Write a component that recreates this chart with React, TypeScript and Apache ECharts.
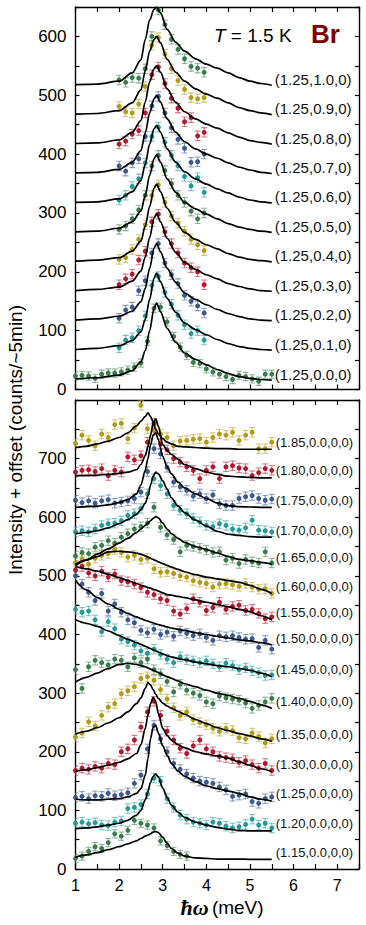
import React, { useEffect, useRef } from 'react';
import * as echarts from 'echarts';

const FONT = '"Liberation Sans", Arial, Helvetica, sans-serif';

// energies (meV)
const EP = [1.0, 1.15, 1.3, 1.45, 1.6, 1.75, 1.9, 2.05, 2.2, 2.35, 2.5, 2.65, 2.8, 2.95, 3.1, 3.25, 3.4, 3.55, 3.7, 3.85, 4.0, 4.15, 4.3, 4.45, 4.6, 4.75, 4.9, 5.05, 5.2, 5.35, 5.5];
const ET = [2.0, 2.15, 2.3, 2.45, 2.6, 2.75, 2.9, 3.05, 3.2, 3.35, 3.5, 3.65, 3.8, 3.95];
const EFT = [1.0, 1.5, 2.0, 2.3, 2.5, 2.6, 2.7, 2.8, 2.86, 2.95, 3.1, 3.3, 3.5, 3.75, 4.0, 4.25, 4.5, 4.75, 5.0, 5.25, 5.5];
const EFB = [1.0, 1.25, 1.5, 1.75, 2.0, 2.2, 2.4, 2.5, 2.6, 2.66, 2.72, 2.78, 2.84, 2.9, 3.0, 3.1, 3.2, 3.35, 3.5, 3.75, 4.0, 4.25, 4.5, 4.75, 5.0, 5.25, 5.5];

const PALETTE = ['#3a7d4c', '#22999b', '#3b5a92', '#b3182d', '#b39a17'];

// ---------- top panel: Q = (1.25, k, 0) ----------
const topLabels = ['(1.25,0.0,0)', '(1.25,0.1,0)', '(1.25,0.2,0)', '(1.25,0.3,0)', '(1.25,0.4,0)', '(1.25,0.5,0)', '(1.25,0.6,0)', '(1.25,0.7,0)', '(1.25,0.8,0)', '(1.25,0.9,0)', '(1.25,1.0,0)'];
const t00 = [23, 24, 23, 19, 26, 28, 28, 30, 33, 38, 45, 82, 138, 140, 115, 90, 72, 58, 46, 44, 35, 30, 26, 22, 17, 24, 22, 18, 14, 26, 26];
const t01 = [71, 84, 88, 100, 125, 177, 192, 165, 145, 126, 110, 95, 100, 84];
const t02 = [121, 135, 140, 168, 185, 232, 248, 215, 195, 180, 160, 150, 142, 130];
const t03 = [178, 188, 196, 220, 235, 285, 298, 268, 248, 232, 215, 207, 200, 178];
const t04 = [221, 224, 238, 255, 280, 330, 348, 318, 295, 283, 269, 255, 246, 236];
const t05 = [272, 278, 290, 305, 330, 380, 398, 372, 350, 330, 318, 303, 290, 300];
const t06 = [322, 330, 345, 358, 385, 430, 446, 420, 398, 380, 362, 346, 360, 335];
const t07 = [380, 371, 385, 392, 430, 482, 498, 470, 445, 425, 410, 386, 387, 400];
const t08 = [417, 422, 434, 440, 470, 535, 548, 520, 495, 478, 455, 462, 431, 437];
const t09 = [481, 472, 470, 485, 515, 585, 598, 570, 545, 525, 510, 496, 494, 496];
const t10 = [526, 522, 530, 529, 545, 600, 645, 620, 595, 578, 562, 549, 546, 539];
const topErr = [7, 8, 8, 8, 8, 8, 8, 8, 8, 8, 8];

const ft00 = [18, 20, 24.5, 32, 47, 66, 100, 138, 147, 132, 104, 80, 62, 51, 42, 34, 27, 22, 19, 17, 16];
const ft01 = [68, 70, 74.5, 83, 98, 119, 153, 189, 198, 183, 155, 131, 113, 102, 93, 85, 78, 73, 70, 68, 67];
const ft02 = [118, 120, 124.5, 133, 149, 172, 206, 240, 248, 234, 206, 182, 164, 153, 144, 136, 129, 124, 120, 118, 117];
const ft03 = [168, 170, 174, 184, 201, 225, 258, 291, 299, 285, 257, 233, 216, 204, 195, 188, 180, 175, 171, 168, 167];
const ft04 = [218, 220, 224, 235, 252, 278, 311, 342, 349, 336, 308, 284, 267, 255, 246, 239, 231, 225, 221, 219, 217];
const ft05 = [268, 269, 274, 285, 303, 330, 364, 392, 399, 386, 358, 335, 318, 307, 298, 290, 282, 276, 272, 269, 267];
const ft06 = [318, 319, 324, 336, 355, 383, 417, 443, 449, 437, 409, 386, 370, 358, 349, 341, 334, 327, 322, 319, 317];
const ft07 = [368, 369, 374, 386, 406, 436, 470, 494, 500, 488, 460, 437, 421, 409, 400, 393, 385, 378, 373, 369, 367];
const ft08 = [418, 419, 424, 437, 457, 489, 523, 545, 550, 539, 511, 488, 472, 460, 451, 444, 436, 429, 423, 420, 417];
const ft09 = [468, 469, 474, 487, 509, 542, 575, 595, 600, 589, 561, 539, 524, 511, 502, 495, 487, 479, 474, 470, 467];
const ft10 = [518, 519, 524, 538, 560, 595, 628, 646, 650, 640, 612, 590, 575, 562, 553, 546, 538, 530, 524, 520, 517];

// ---------- bottom panel: Q = (h, 0.0, 0, 0) ----------
const botLabels = ['(1.15,0.0,0,0)', '(1.20,0.0,0,0)', '(1.25,0.0,0,0)', '(1.30,0.0,0,0)', '(1.35,0.0,0,0)', '(1.40,0.0,0,0)', '(1.45,0.0,0,0)', '(1.50,0.0,0,0)', '(1.55,0.0,0,0)', '(1.60,0.0,0,0)', '(1.65,0.0,0,0)', '(1.70,0.0,0,0)', '(1.75,0.0,0,0)', '(1.80,0.0,0,0)', '(1.85,0.0,0,0)'];
const b115 = [18, 22, 30, 38, 35, 45, 60, 56, 66, 83, 78, 75, 70, 48, 40, 30, 25, 22];
const b120 = [78, 80, 77, 79, 75, 74, 80, 82, 103, 105, 110, 128, 155, 150, 120, 105, 92, 85, 80, 78, 75, 80, 78, 73, 70, 72, 76, 85, 75, 78, 70];
const b125 = [122, 124, 120, 125, 124, 129, 125, 127, 130, 146, 160, 205, 245, 222, 200, 180, 170, 162, 155, 150, 148, 146, 140, 135, 124, 126, 128, 115, 112, 120, 123];
const b130 = [168, 172, 170, 175, 172, 180, 178, 200, 205, 220, 242, 268, 286, 262, 235, 220, 206, 197, 210, 220, 205, 200, 192, 190, 188, 182, 185, 178, 172, 180, 168];
const b135 = [225, 232, 251, 244, 262, 276, 282, 299, 304, 311, 325, 328, 322, 306, 290, 275, 262, 268, 255, 250, 246, 240, 235, 240, 236, 224, 222, 232, 226, 215, 222];
const b140 = [340, 308, 345, 356, 352, 348, 358, 356, 345, 360, 352, 358, 340, 333, 320, 302, 315, 305, 300, 296, 285, 282, 295, 292, 290, 288, 283, 274, 279, 285, 291];
const b145 = [443, 438, 440, 425, 405, 422, 410, 392, 388, 382, 372, 368, 375, 366, 358, 352, 362, 357, 355, 352, 355, 350, 345, 351, 347, 340, 343, 338, 335, 330, 331];
const b150 = [500, 486, 472, 458, 470, 440, 452, 438, 425, 420, 407, 403, 409, 400, 404, 397, 406, 402, 398, 401, 395, 390, 398, 396, 398, 395, 392, 393, 378, 390, 375];
const b155 = [510, 516, 505, 500, 508, 498, 503, 492, 490, 486, 480, 472, 468, 461, 458, 440, 435, 444, 461, 455, 441, 446, 455, 443, 448, 450, 441, 443, 436, 427, 430];
const b160 = [522, 528, 520, 530, 535, 538, 545, 540, 532, 535, 528, 530, 512, 506, 507, 504, 500, 498, 492, 489, 487, 481, 486, 487, 485, 482, 487, 481, 477, 478, 470];
const b165 = [534, 540, 538, 549, 552, 560, 556, 566, 572, 580, 584, 590, 617, 583, 570, 562, 541, 552, 550, 547, 544, 540, 541, 527, 530, 521, 528, 524, 522, 541, 522];
const b170 = [575, 577, 575, 580, 586, 589, 590, 594, 603, 606, 615, 640, 666, 654, 640, 620, 612, 606, 598, 592, 586, 584, 589, 586, 580, 578, 582, 595, 578, 577, 575];
const b175 = [629, 625, 628, 624, 628, 630, 624, 626, 628, 632, 643, 678, 717, 708, 685, 660, 652, 646, 636, 640, 632, 638, 623, 620, 620, 632, 635, 637, 632, 629, 631];
const b180 = [677, 680, 681, 678, 683, 671, 680, 677, 703, 698, 705, 728, 760, 725, 715, 700, 694, 686, 680, 666, 680, 686, 666, 686, 688, 684, 683, 671, 676, 683, 680];
const b185 = [726, 740, 731, 722, 742, 736, 758, 760, 734, 752, 791, 751, 748, 742, 736, 722, 730, 731, 733, 734, 728, 736, 742, 740, 745, 731, 740, 745, 717, 717, 728];
const botErr = [7, 8, 8, 8, 8, 8, 8, 8, 8, 8, 8, 8, 8, 8, 8];

const fb115 = [20, 24, 28, 33, 38, 43, 48, 52, 56, 58, 60, 63, 64, 62, 54, 44, 35, 27, 22, 19, 18, 17, 17, 17, 16.5, 16.5, 16.5];
const fb120 = [69, 70, 72, 75, 78, 83, 92, 100, 118, 132, 148, 158, 162, 157, 138, 122, 109, 97, 88, 80, 75, 71, 68, 66, 65, 65, 65];
const fb125 = [119, 118, 118, 119, 120, 123, 129, 137, 160, 188, 222, 242, 245, 232, 210, 194, 180, 167, 158, 149, 142, 137, 133, 129, 123, 119, 116];
const fb130 = [167, 169, 173, 177, 182, 188, 197, 212, 240, 262, 282, 293, 285, 265, 240, 228, 220, 212, 207, 200, 196, 193, 189, 183, 177, 171, 166];
const fb135 = [230, 235, 241, 249, 258, 268, 282, 292, 308, 318, 314, 306, 298, 291, 283, 278, 274, 269, 264, 255, 248, 241, 236, 231, 227, 222, 218];
const fb140 = [319, 327, 334, 342, 349, 351, 349, 347, 345, 343, 341, 339, 337, 335, 331, 328, 325, 321, 316, 311, 305, 300, 296, 291, 286, 280, 274];
const fb145 = [425, 419, 414, 406, 398, 392, 386, 383, 380, 378, 376, 374, 372, 370, 367, 364, 362, 359, 357, 353, 350, 347, 345, 342, 339, 334, 328];
const fb150 = [492, 476, 463, 452, 443, 436, 430, 427, 424, 423, 421, 420, 418, 417, 415, 413, 411, 409, 407, 403, 400, 397, 394, 391, 389, 386, 382];
const fb155 = [516, 512, 508, 503, 497, 492, 487, 484, 482, 480, 479, 477, 476, 474, 471, 468, 467, 465, 463, 459, 455, 451, 447, 443, 439, 432, 425];
const fb160 = [520, 527, 533, 541, 542, 541, 539, 537, 534, 532, 530, 528, 526, 524, 521, 518, 515, 511, 507, 502, 498, 495, 492, 489, 484, 477, 470];
const fb165 = [518, 527, 537, 546, 556, 564, 574, 580, 586, 590, 594, 598, 601, 599, 590, 580, 572, 564, 557, 550, 545, 539, 533, 528, 526, 523, 520];
const fb170 = [572, 574, 577, 582, 589, 596, 605, 613, 624, 636, 655, 670, 677, 674, 662, 648, 633, 619, 608, 595, 585, 576, 571, 569, 567, 566, 566];
const fb175 = [617, 618, 619, 621, 625, 630, 640, 655, 680, 700, 723, 740, 744, 732, 704, 686, 674, 660, 650, 640, 632, 624, 620, 618, 617.5, 617, 617];
const fb180 = [671, 671, 672, 673, 675, 677, 681, 690, 705, 720, 740, 760, 768, 755, 724, 714, 707, 699, 690, 683, 677, 673, 670, 669, 668, 667, 667];
const fb185 = [719, 721, 725, 730, 736, 744, 756, 764, 772, 778, 772, 762, 750, 742, 734, 728, 725, 721, 720, 719, 718, 717, 717, 716, 716, 716, 716];

const topSets = [
  { pts: t00, ex: EP, fit: ft00 }, { pts: t01, ex: ET, fit: ft01 }, { pts: t02, ex: ET, fit: ft02 },
  { pts: t03, ex: ET, fit: ft03 }, { pts: t04, ex: ET, fit: ft04 }, { pts: t05, ex: ET, fit: ft05 },
  { pts: t06, ex: ET, fit: ft06 }, { pts: t07, ex: ET, fit: ft07 }, { pts: t08, ex: ET, fit: ft08 },
  { pts: t09, ex: ET, fit: ft09 }, { pts: t10, ex: ET, fit: ft10 },
];
const botSets = [
  { pts: b115, fit: fb115 }, { pts: b120, fit: fb120 }, { pts: b125, fit: fb125 }, { pts: b130, fit: fb130 },
  { pts: b135, fit: fb135 }, { pts: b140, fit: fb140 }, { pts: b145, fit: fb145 }, { pts: b150, fit: fb150 },
  { pts: b155, fit: fb155 }, { pts: b160, fit: fb160 }, { pts: b165, fit: fb165 }, { pts: b170, fit: fb170 },
  { pts: b175, fit: fb175 }, { pts: b180, fit: fb180 }, { pts: b185, fit: fb185 },
];

function hexA(hex: string, a: number) {
  const r = parseInt(hex.slice(1, 3), 16), g = parseInt(hex.slice(3, 5), 16), b = parseInt(hex.slice(5, 7), 16);
  return `rgba(${r},${g},${b},${a})`;
}

function buildSeries() {
  const series: any[] = [];
  const add = (gi: number, name: string, color: string, ex: number[], ey: number[], err: number, fx: number[], fy: number[], lblSize: number, lblDy: number, lblDist: number) => {
    const pts = ey.map((v, i) => [ex[i], v]);
    const ebColor = hexA(color, 0.55);
    series.push({
      type: 'custom', xAxisIndex: gi * 2, yAxisIndex: gi * 2, silent: true, clip: true, z: 2,
      data: pts.map((p) => [p[0], p[1] - err, p[1] + err]),
      renderItem: (params: any, api: any) => {
        const x = api.value(0);
        const lo = api.coord([x, api.value(1)]);
        const hi = api.coord([x, api.value(2)]);
        const w = 3;
        const st = { stroke: ebColor, lineWidth: 1.1 };
        return {
          type: 'group',
          children: [
            { type: 'line', shape: { x1: lo[0], y1: lo[1], x2: hi[0], y2: hi[1] }, style: st },
            { type: 'line', shape: { x1: lo[0] - w, y1: lo[1], x2: lo[0] + w, y2: lo[1] }, style: st },
            { type: 'line', shape: { x1: hi[0] - w, y1: hi[1], x2: hi[0] + w, y2: hi[1] }, style: st },
          ],
        };
      },
    });
    series.push({
      type: 'scatter', xAxisIndex: gi * 2, yAxisIndex: gi * 2, silent: true, z: 3,
      data: pts, symbol: 'circle', symbolSize: 5, itemStyle: { color, opacity: 1 },
    });
    series.push({
      type: 'line', xAxisIndex: gi * 2, yAxisIndex: gi * 2, silent: true, z: 4,
      data: fx.map((x, i) => [x, fy[i]]), symbol: 'none', showSymbol: false,
      smooth: 0.3, smoothMonotone: 'x',
      lineStyle: { color: '#000', width: 1.7 },
      endLabel: {
        show: true, formatter: name, fontSize: lblSize, fontFamily: FONT, color: '#111',
        distance: lblDist, offset: [0, lblDy],
      },
    });
  };
  topSets.forEach((s, i) => add(0, topLabels[i], PALETTE[i % 5], s.ex, s.pts, topErr[i], EFT, s.fit, 15, -6, 3));
  botSets.forEach((s, i) => add(1, botLabels[i], PALETTE[i % 5], EP, s.pts, botErr[i], EFB, s.fit, 13, -7, 4));
  return series;
}

const axisLineStyle = { color: '#000', width: 1.4 };
const tickStyle = { color: '#000', width: 1.2 };

function xAxis(gi: number, pos: string, showLabel: boolean) {
  return {
    type: 'value', gridIndex: gi, position: pos, min: 1, max: 7.5, interval: 0.5,
    axisLine: { show: true, onZero: false, lineStyle: axisLineStyle },
    axisTick: { show: true, inside: true, length: 5, lineStyle: tickStyle },
    axisLabel: {
      show: showLabel, margin: 8, fontSize: 16, color: '#000', fontFamily: FONT,
      formatter: (v: number) => (Math.abs(v - Math.round(v)) < 1e-6 && v < 7.4 ? String(Math.round(v)) : ''),
    },
    splitLine: { show: false },
  };
}
function yAxis(gi: number, pos: string, max: number, lastLabel: number, showLabel: boolean) {
  return {
    type: 'value', gridIndex: gi, position: pos, min: 0, max, interval: 50,
    axisLine: { show: true, onZero: false, lineStyle: axisLineStyle },
    axisTick: { show: true, inside: true, length: 4, lineStyle: tickStyle },
    axisLabel: {
      show: showLabel, margin: 9, fontSize: 17, color: '#000', fontFamily: FONT,
      formatter: (v: number) => (v % 100 === 0 && v <= lastLabel ? String(v) : ''),
    },
    splitLine: { show: false },
  };
}

export default function App() {
  const ref = useRef<HTMLDivElement>(null);
  useEffect(() => {
    if (!ref.current) return;
    const chart = echarts.init(ref.current, null, { renderer: 'svg' });
    chart.setOption({
      animation: false,
      backgroundColor: '#fff',
      textStyle: { fontFamily: FONT },
      grid: [
        { left: 75.5, top: 7, width: 283.5, height: 382.5 },
        { left: 75.5, top: 400, width: 283.5, height: 469 },
      ],
      xAxis: [xAxis(0, 'bottom', false), xAxis(0, 'top', false), xAxis(1, 'bottom', true), xAxis(1, 'top', false)],
      yAxis: [yAxis(0, 'left', 650, 600, true), yAxis(0, 'right', 650, 600, false), yAxis(1, 'left', 800, 700, true), yAxis(1, 'right', 800, 700, false)],
      series: buildSeries(),
      graphic: [
        {
          type: 'text', left: 214, top: 26, silent: true,
          style: {
            text: '{i|T}{n| = 1.5 K}', fill: '#000',
            rich: {
              i: { fontSize: 19, fontStyle: 'italic', fontFamily: FONT, fill: '#000' },
              n: { fontSize: 19, fontFamily: FONT, fill: '#000' },
            },
          },
        },
        {
          type: 'text', left: 311, top: 21, silent: true,
          style: { text: 'Br', fontSize: 26, fontWeight: 'bold', fontFamily: FONT, fill: '#7f0000' },
        },
        {
          type: 'text', x: 15, y: 440, rotation: Math.PI / 2, silent: true,
          style: { text: 'Intensity + offset (counts/~5min)', fontSize: 19, fontFamily: FONT, fill: '#000', align: 'center', verticalAlign: 'middle' },
        },
        {
          type: 'text', x: 222, y: 907, silent: true,
          style: {
            text: '{a|ħω} {b|(meV)}', align: 'center', verticalAlign: 'middle',
            rich: {
              a: { fontSize: 22, fontStyle: 'italic', fontWeight: 'bold', fontFamily: '"Liberation Serif", "DejaVu Serif", serif', fill: '#000' },
              b: { fontSize: 19, fontFamily: FONT, fill: '#000' },
            },
          },
        },
      ],
    });
    return () => chart.dispose();
  }, []);
  return <div ref={ref} style={{ position: 'absolute', left: 0, top: 0, width: 366, height: 925 }} />;
}
